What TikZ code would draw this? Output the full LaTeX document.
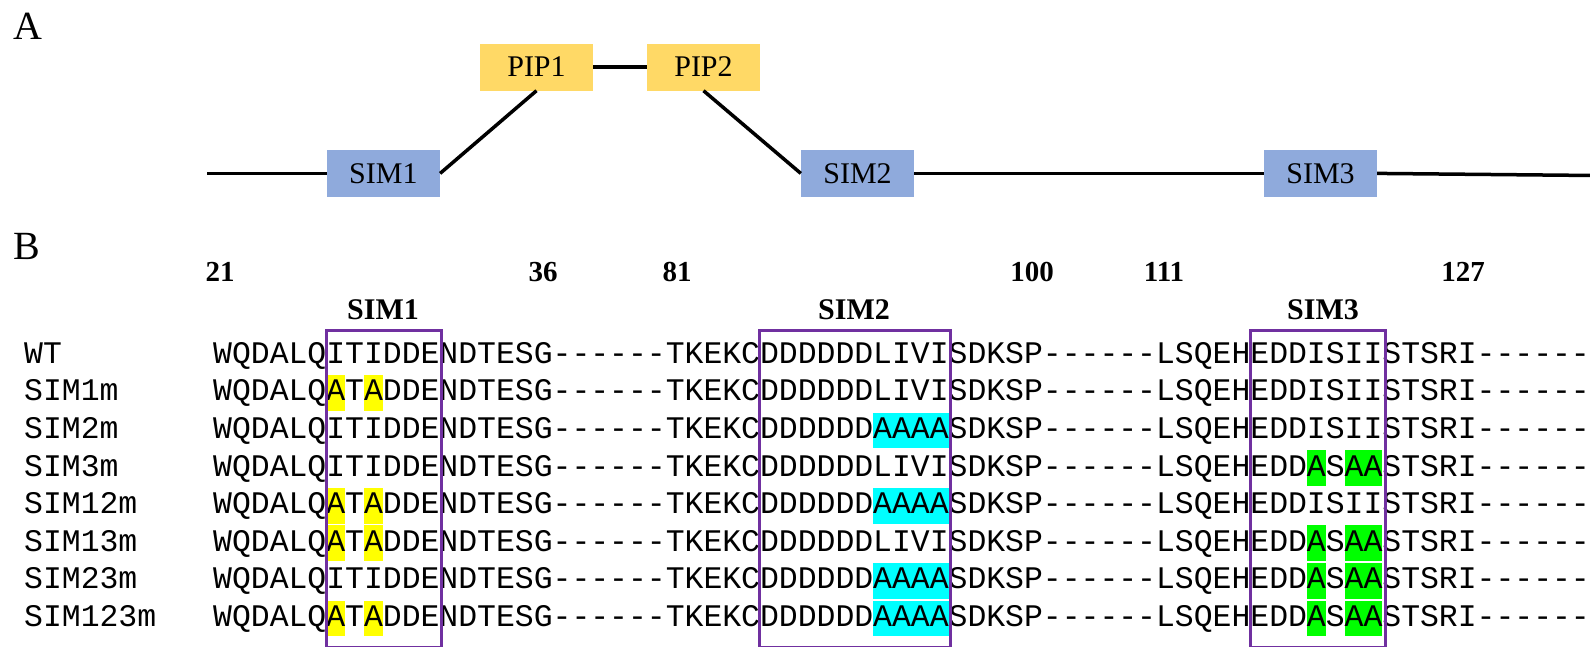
\documentclass[tikz,border=0pt]{standalone}
\usepackage{fontspec}
\setmainfont{Liberation Serif}
\setmonofont{Liberation Mono}
\definecolor{simblue}{HTML}{8FAADC}
\definecolor{pipyellow}{HTML}{FFD966}
\definecolor{motif}{HTML}{7030A0}
\definecolor{hlyellow}{HTML}{FFFF00}
\definecolor{hlcyan}{HTML}{00FFFF}
\definecolor{hlgreen}{HTML}{00FF00}
\tikzset{
  domainbox/.style={minimum width=113pt, minimum height=47pt, inner sep=0pt,
    font=\fontsize{30}{30}\selectfont},
  simdom/.style={domainbox, fill=simblue},
  pipdom/.style={domainbox, fill=pipyellow},
  chainline/.style={line width=3.5pt, black},
  seqtext/.style={anchor=base west, inner sep=0pt,
    font=\ttfamily\fontsize{31.43}{36}\selectfont},
  resnum/.style={inner sep=0pt, font=\bfseries\fontsize{29}{29}\selectfont},
  motiflabel/.style={inner sep=0pt, font=\bfseries\fontsize{30}{30}\selectfont},
  motifbox/.style={draw=motif, line width=3pt},
  panellabel/.style={inner sep=0pt, font=\fontsize{40}{40}\selectfont},
}
% residue cell geometry of the alignment
\def\xo{213}
\def\cw{18.86}
\def\yb{363.3}
\def\dy{37.6}

\begin{document}
\begin{tikzpicture}[x=1pt,y=-1pt]
\useasboundingbox (0,0) rectangle (1590,646);
\clip (0,0) rectangle (1590,646);

% ---------- panel A: domain layout ----------
\node[panellabel] (pA) at (28,26) {A};

\node[simdom] (sim1) at (383.4,173.4) {SIM1};
\node[simdom] (sim2) at (857.5,173.4) {SIM2};
\node[simdom] (sim3) at (1320.5,173.4) {SIM3};
\node[pipdom] (pip1) at (536.5,67) {PIP1};
\node[pipdom] (pip2) at (703.5,67) {PIP2};
\coordinate (nterm) at (207,173.4);
\coordinate (cterm) at (1595,175.5);

\draw[chainline] (nterm) -- (sim1.west);
\draw[chainline] (sim1.east) -- (pip1.south);
\draw[chainline] (pip1.east) -- (pip2.west);
\draw[chainline] (pip2.south) -- (sim2.west);
\draw[chainline] (sim2.east) -- (sim3.west);
\draw[chainline] (sim3.east) -- (cterm);

% ---------- panel B: alignment ----------
\node[panellabel] (pB) at (27,246) {B};

\node[resnum] (n21)  at (220,272)  {21};
\node[resnum] (n36)  at (543,272)  {36};
\node[resnum] (n81)  at (677,272)  {81};
\node[resnum] (n100) at (1032,272) {100};
\node[resnum] (n111) at (1164,272) {111};
\node[resnum] (n127) at (1463,272) {127};

\node[motiflabel] (l1) at (383,310)  {SIM1};
\node[motiflabel] (l2) at (854,310)  {SIM2};
\node[motiflabel] (l3) at (1323,310) {SIM3};

% substituted residues
\foreach \r in {1,4,5,7} {
  \foreach \c in {6,8}
    \fill[hlyellow] (\xo+\c*\cw,\yb+\r*\dy-26) rectangle (\xo+\c*\cw+\cw,\yb+\r*\dy+9.8);
}
\foreach \r in {2,4,6,7}
  \fill[hlcyan] (\xo+35*\cw,\yb+\r*\dy-26) rectangle (\xo+39*\cw,\yb+\r*\dy+9.8);
\foreach \r in {3,5,6,7} {
  \fill[hlgreen] (\xo+58*\cw,\yb+\r*\dy-26) rectangle (\xo+59*\cw,\yb+\r*\dy+9.8);
  \fill[hlgreen] (\xo+60*\cw,\yb+\r*\dy-26) rectangle (\xo+62*\cw,\yb+\r*\dy+9.8);
}

% construct names and sequences
\foreach \i/\lab/\s in {
  0/WT/WQDALQITIDDENDTESG------TKEKCDDDDDDLIVISDKSP------LSQEHEDDISIISTSRI-------,
  1/SIM1m/WQDALQATADDENDTESG------TKEKCDDDDDDLIVISDKSP------LSQEHEDDISIISTSRI-------,
  2/SIM2m/WQDALQITIDDENDTESG------TKEKCDDDDDDAAAASDKSP------LSQEHEDDISIISTSRI-------,
  3/SIM3m/WQDALQITIDDENDTESG------TKEKCDDDDDDLIVISDKSP------LSQEHEDDASAASTSRI-------,
  4/SIM12m/WQDALQATADDENDTESG------TKEKCDDDDDDAAAASDKSP------LSQEHEDDISIISTSRI-------,
  5/SIM13m/WQDALQATADDENDTESG------TKEKCDDDDDDLIVISDKSP------LSQEHEDDASAASTSRI-------,
  6/SIM23m/WQDALQITIDDENDTESG------TKEKCDDDDDDAAAASDKSP------LSQEHEDDASAASTSRI-------,
  7/SIM123m/WQDALQATADDENDTESG------TKEKCDDDDDDAAAASDKSP------LSQEHEDDASAASTSRI-------}
{
  \node[seqtext] (name\i) at (24,\yb+\i*\dy) {\lab};
  \node[seqtext] (row\i) at (\xo,\yb+\i*\dy) {\s};
}

% motif frames
\draw[motifbox] (\xo+6*\cw,330) rectangle (\xo+12*\cw+2,647);
\draw[motifbox] (\xo+29*\cw,330) rectangle (\xo+39*\cw+2,647);
\draw[motifbox] (\xo+55*\cw,330) rectangle (\xo+62*\cw+3,647);
\end{tikzpicture}
\end{document}
